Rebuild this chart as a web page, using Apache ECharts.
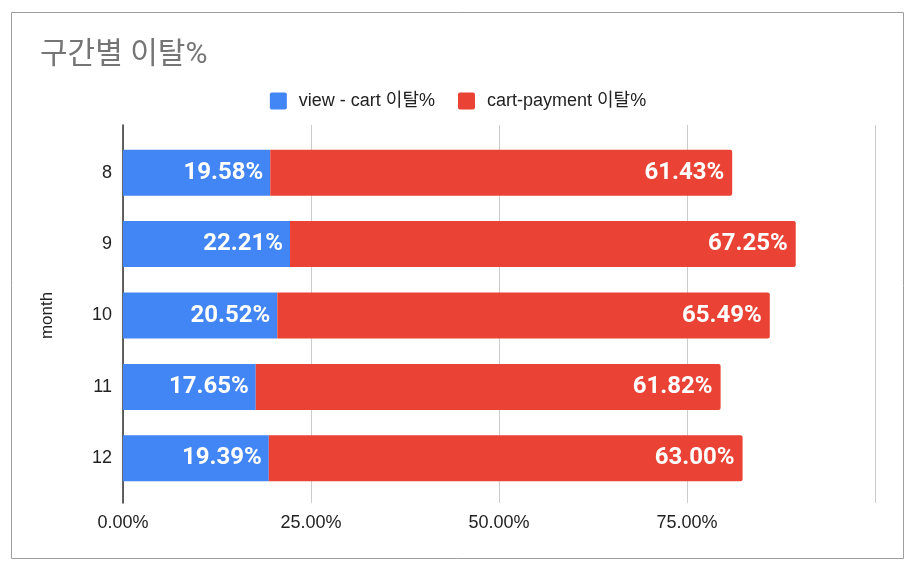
<!DOCTYPE html>
<html><head><meta charset="utf-8">
<script src="https://cdn.jsdelivr.net/npm/echarts@6/dist/echarts.min.js"></script>
<style>html,body{margin:0;padding:0;background:#fff}#c{width:916px;height:574px}</style>
</head><body><div id="c"></div>
<script>
const months = ['8', '9', '10', '11', '12'];
const viewCart = [19.58, 22.21, 20.52, 17.65, 19.39];
const cartPayment = [61.43, 67.25, 65.49, 61.82, 63.00];
const xTicks = [0, 25, 50, 75, 100];

const chart = echarts.init(document.getElementById('c'));
const fmt = p => p.value.toFixed(2) + '%';
const font = '"Liberation Sans", Arial, "Noto Sans CJK KR", sans-serif';
const bold = 'Roboto, "Noto Sans CJK KR", sans-serif';
chart.setOption({
  animation: false,
  textStyle: {fontFamily: font},
  title: {text: '구간별 이탈%', left: 35, top: 36,
    textStyle: {fontFamily: 'Roboto, "Noto Sans CJK KR", sans-serif', fontSize: 30, fontWeight: 'normal', color: '#757575'}},
  legend: {top: 87, left: 'center', itemWidth: 17, itemHeight: 17, itemGap: 23,
    icon: 'path://M2,0 L15,0 Q17,0 17,2 L17,15 Q17,17 15,17 L2,17 Q0,17 0,15 L0,2 Q0,0 2,0 Z',
    textStyle: {fontFamily: font, fontSize: 18, color: '#222', padding: [0, 0, 0, 7]},
    data: ['view - cart 이탈%', 'cart-payment 이탈%']},
  graphic: [{type: 'rect', shape: {x: 11.5, y: 12.5, width: 892, height: 546},
    style: {fill: 'none', stroke: '#9e9e9e', lineWidth: 1}, silent: true}],
  grid: [
    {left: 123, right: 41, top: 137, bottom: 80},
    {left: 123, right: 41, top: 125, bottom: 71}
  ],
  xAxis: [
    {gridIndex: 0, type: 'value', min: 0, max: 100, interval: 25, show: false},
    {gridIndex: 1, type: 'value', min: xTicks[0], max: xTicks[xTicks.length - 1], interval: 25,
      axisLine: {show: false}, axisTick: {show: false},
      splitLine: {show: true, lineStyle: {color: '#cccccc', width: 1}},
      axisLabel: {margin: 11, fontSize: 18, color: '#222', fontFamily: font,
        formatter: v => v === 100 ? '' : v.toFixed(2) + '%'}}
  ],
  yAxis: [
    {gridIndex: 0, type: 'category', data: months, inverse: true,
      name: 'month', nameLocation: 'middle', nameGap: 67, nameRotate: 90,
      nameTextStyle: {fontSize: 17, color: '#222', fontFamily: font},
      axisLine: {show: false}, axisTick: {show: false},
      axisLabel: {margin: 11, fontSize: 18, color: '#222', fontFamily: font}},
    {gridIndex: 1, type: 'category', data: months, inverse: true,
      axisLine: {show: true, lineStyle: {color: '#333', width: 1.5}},
      axisTick: {show: false}, axisLabel: {show: false}}
  ],
  series: [
    {name: 'view - cart 이탈%', type: 'bar', stack: 't', xAxisIndex: 0, yAxisIndex: 0,
      data: viewCart, barWidth: 46,
      itemStyle: {color: '#4285F4'},
      label: {show: true, position: 'insideRight', distance: 7, formatter: fmt,
        color: '#fff', fontSize: 24, fontWeight: 'bold', fontFamily: bold}},
    {name: 'cart-payment 이탈%', type: 'bar', stack: 't', xAxisIndex: 0, yAxisIndex: 0,
      data: cartPayment, barWidth: 46,
      itemStyle: {color: '#EA4335', borderRadius: [0, 2, 2, 0]},
      label: {show: true, position: 'insideRight', distance: 8, formatter: fmt,
        color: '#fff', fontSize: 24, fontWeight: 'bold', fontFamily: bold}}
  ]
});
</script></body></html>
